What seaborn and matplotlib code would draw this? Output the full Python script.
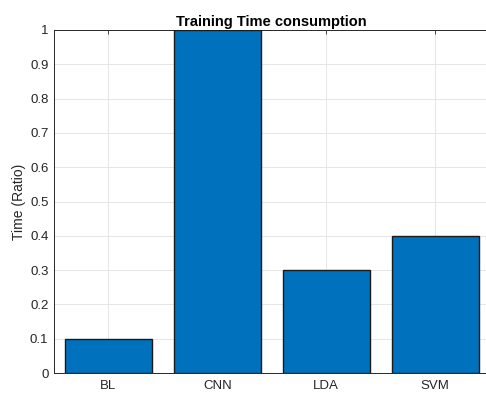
import matplotlib
matplotlib.use("Agg")
import matplotlib.pyplot as plt
import seaborn as sns
import pandas as pd

methods = ["BL", "CNN", "LDA", "SVM"]
time_ratio = [0.1, 1.0, 0.3, 0.4]
y_ticks = [0, 0.1, 0.2, 0.3, 0.4, 0.5, 0.6, 0.7, 0.8, 0.9, 1]
y_tick_labels = ["0", "0.1", "0.2", "0.3", "0.4", "0.5", "0.6", "0.7", "0.8", "0.9", "1"]

df = pd.DataFrame({"method": methods, "time": time_ratio})

sns.set_style("white")
plt.rcParams['font.family'] = ['Liberation Sans', 'DejaVu Sans']

fig = plt.figure(figsize=(4.86, 3.94), dpi=100)
# MATLAB-like axes box; the right edge runs slightly past the image border
ax = fig.add_axes([54 / 486, 21 / 394, 435.5 / 486, 343 / 394])

sns.barplot(data=df, x="method", y="time", color="#0072BD", saturation=1,
            width=0.8, edgecolor="#1a1a1a", linewidth=1.0, ax=ax, zorder=3)

ax.set_xlim(-0.5, 3.5)
ax.set_ylim(0, 1)
ax.set_yticks(y_ticks)
ax.set_yticklabels(y_tick_labels)
ax.set_xlabel("")
ax.set_ylabel("Time (Ratio)", fontsize=10, color="#262626", labelpad=3)
ax.set_title("Training Time consumption", fontsize=10.5, fontweight="bold",
             color="#000000", pad=3)

ax.grid(True, color="#e6e6e6", linewidth=0.7, zorder=0)
ax.set_axisbelow(True)
ax.tick_params(axis="both", direction="in", length=3, width=0.6,
               colors="#262626", labelsize=9.5, top=True, right=True)
ax.tick_params(axis="x", pad=5)
ax.tick_params(axis="y", pad=4)
for s in ax.spines.values():
    s.set_color("#262626")
    s.set_linewidth(0.7)

fig.savefig("out.png", dpi=100, facecolor="white")
